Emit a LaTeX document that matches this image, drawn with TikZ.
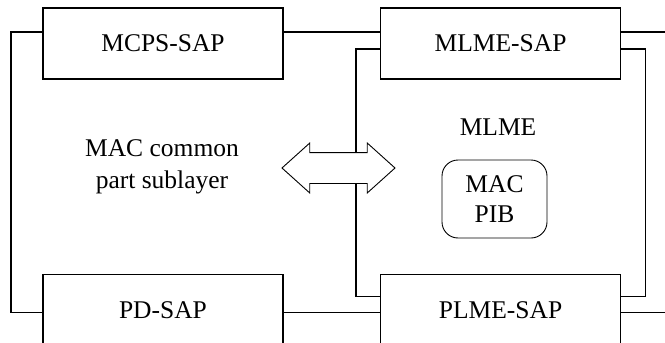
\documentclass[tikz,border=0pt]{standalone}
\usepackage{fontspec}
\setmainfont{Liberation Serif}
\usetikzlibrary{shapes,arrows,positioning}

\begin{document}
\begin{tikzpicture}[
    x=1pt, y=-1pt,
    sap/.style={rectangle, draw, line width=1.6pt, minimum width=240pt, minimum height=71pt, inner sep=0pt, font=\fontsize{25.5}{31}\selectfont},
    pib/.style={rectangle, rounded corners=16pt, draw, line width=0.9pt, minimum width=105pt, minimum height=78pt, align=center, font=\fontsize{25.5}{30}\selectfont},
    txt/.style={align=center, font=\fontsize{25.5}{32}\selectfont},
    wire/.style={line width=1.6pt},
    xchg/.style={double arrow, draw, fill=white, line width=0.9pt, minimum height=113pt, inner xsep=0pt, inner ysep=15pt, double arrow head extend=9.5pt, double arrow tip angle=84}
]
\useasboundingbox (0,0) rectangle (665,343);

\node[sap] (mcps) at (163,43.5) {MCPS-SAP};
\node[sap, right=96pt of mcps] (mlmesap) {MLME-SAP};
\node[sap, below=194pt of mcps] (pdsap) {PD-SAP};
\node[sap, right=96pt of pdsap] (plmesap) {PLME-SAP};

\node[txt] (common) at (162,167) {MAC common\\part sublayer};
\node[txt] (mlme) at (498,127) {MLME};
\node[pib] (pib) at (494.5,199) {MAC\\PIB};

% outer wires
\draw[wire] ([yshift=11.5pt]mcps.west) -- ++(-31pt,0) |- ([yshift=-2.5pt]pdsap.west);
\draw[wire] ([yshift=11.5pt]mcps.east) -- ([yshift=11.5pt]mlmesap.west);
\draw[wire] ([yshift=-2.5pt]pdsap.east) -- ([yshift=-2.5pt]plmesap.west);
\draw[wire] ([yshift=11.5pt]mlmesap.east) -- ++(60pt,0);
\draw[wire] ([yshift=-2.5pt]plmesap.east) -- ++(60pt,0);

% inner loop round the MLME
\draw[wire] ([yshift=-5.5pt]mlmesap.west) -- ++(-24pt,0) |- ([yshift=13.5pt]plmesap.west);
\draw[wire] ([yshift=-5.5pt]mlmesap.east) -- ++(24pt,0) |- ([yshift=13.5pt]plmesap.east);

\node[xchg] (link) at (338.5,168) {};

\end{tikzpicture}
\end{document}
